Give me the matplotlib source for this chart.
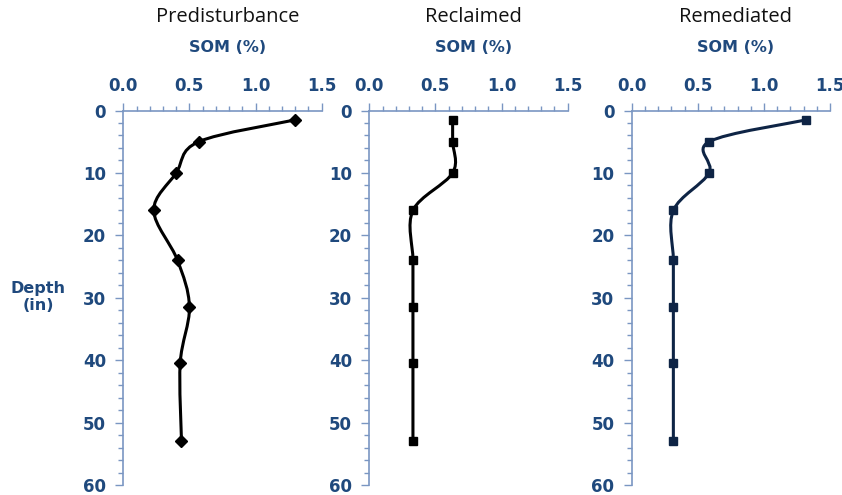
import matplotlib
matplotlib.use("Agg")
import matplotlib.pyplot as plt
import numpy as np
from matplotlib.path import Path
from matplotlib.patches import PathPatch
from matplotlib.ticker import MultipleLocator, FixedLocator

# ---- data ----
depth = [1.5, 5, 10, 16, 24, 31.5, 40.5, 53]
predisturbance = [1.30, 0.57, 0.40, 0.23, 0.41, 0.50, 0.43, 0.44]
reclaimed = [0.63, 0.63, 0.63, 0.33, 0.33, 0.33, 0.33, 0.33]
remediated = [1.32, 0.585, 0.585, 0.315, 0.315, 0.315, 0.315, 0.315]
titles = ["Predisturbance", "Reclaimed", "Remediated"]
x_ticks = [0.0, 0.5, 1.0, 1.5]
x_ticklabels = ["0.0", "0.5", "1.0", "1.5"]
y_ticks = [0, 10, 20, 30, 40, 50, 60]

W, H = 842, 495
fig = plt.figure(figsize=(W / 100, H / 100), dpi=100)

tick_color = "#1F497D"
spine_color = "#7A96C2"
lefts = [123.3, 369.3, 631.7]
ax_w = 198.4
top_px, bot_px = 110.5, 485

series = [predisturbance, reclaimed, remediated]
markers = ["D", "s", "s"]
msizes = [6.5, 5.5, 5.5]
colors = ["black", "black", "#0E2445"]


def smooth_path(ax, xs, ys):
    pts = ax.transData.transform(np.column_stack([xs, ys]))
    n = len(pts)
    verts = [pts[0]]
    codes = [Path.MOVETO]
    for i in range(n - 1):
        p0 = pts[i - 1] if i > 0 else pts[i]
        p1 = pts[i]
        p2 = pts[i + 1]
        p3 = pts[i + 2] if i + 2 < n else pts[i + 1]
        c1 = p1 + (p2 - p0) / 6.0
        c2 = p2 - (p3 - p1) / 6.0
        verts += [c1, c2, p2]
        codes += [Path.CURVE4] * 3
    verts = ax.transData.inverted().transform(np.array(verts))
    return Path(verts, codes)


for k in range(3):
    ax = fig.add_axes([lefts[k] / W, 1 - bot_px / H, ax_w / W, (bot_px - top_px) / H])
    ax.set_xlim(0, 1.5)
    ax.set_ylim(60, 0)
    ax.xaxis.tick_top()
    ax.xaxis.set_label_position("top")
    for s in ["right", "bottom"]:
        ax.spines[s].set_visible(False)
    for s in ["left", "top"]:
        ax.spines[s].set_color(spine_color)
        ax.spines[s].set_linewidth(1.2)
    ax.xaxis.set_major_locator(FixedLocator(x_ticks))
    ax.set_xticklabels(x_ticklabels)
    ax.xaxis.set_minor_locator(MultipleLocator(0.1))
    ax.yaxis.set_major_locator(FixedLocator(y_ticks))
    ax.yaxis.set_minor_locator(MultipleLocator(2))
    ax.tick_params(axis="both", which="major", color=spine_color, length=6, width=1.0,
                   labelcolor=tick_color, labelsize=12, direction="out")
    ax.tick_params(axis="both", which="minor", color=spine_color, length=3.5, width=1.0,
                   direction="out")
    ax.tick_params(axis="x", which="major", pad=5)
    ax.tick_params(axis="y", which="major", pad=6.5)
    for lab in ax.get_xticklabels() + ax.get_yticklabels():
        lab.set_fontweight("bold")
        lab.set_family("DejaVu Sans")

    path = smooth_path(ax, series[k], depth)
    ax.add_patch(PathPatch(path, facecolor="none", edgecolor=colors[k], lw=2.2, zorder=3))
    ax.plot(series[k], depth, linestyle="none", marker=markers[k], ms=msizes[k],
            color=colors[k], zorder=4, clip_on=False)

    cx = (lefts[k] + ax_w / 2 + 5) / W
    fig.text(cx, 1 - 17 / H, titles[k], ha="center", va="center", fontsize=14.5,
             family="Open Sans", color="#111111")
    fig.text(cx, 1 - 48 / H, "SOM (%)", ha="center", va="center", fontsize=11.5,
             fontweight="bold", family="DejaVu Sans", color=tick_color)

fig.text(38 / W, 1 - 297 / H, "Depth\n(in)", ha="center", va="center", fontsize=11.5,
         fontweight="bold", family="DejaVu Sans", color=tick_color, linespacing=1.1)

fig.savefig("out.png", dpi=100)
